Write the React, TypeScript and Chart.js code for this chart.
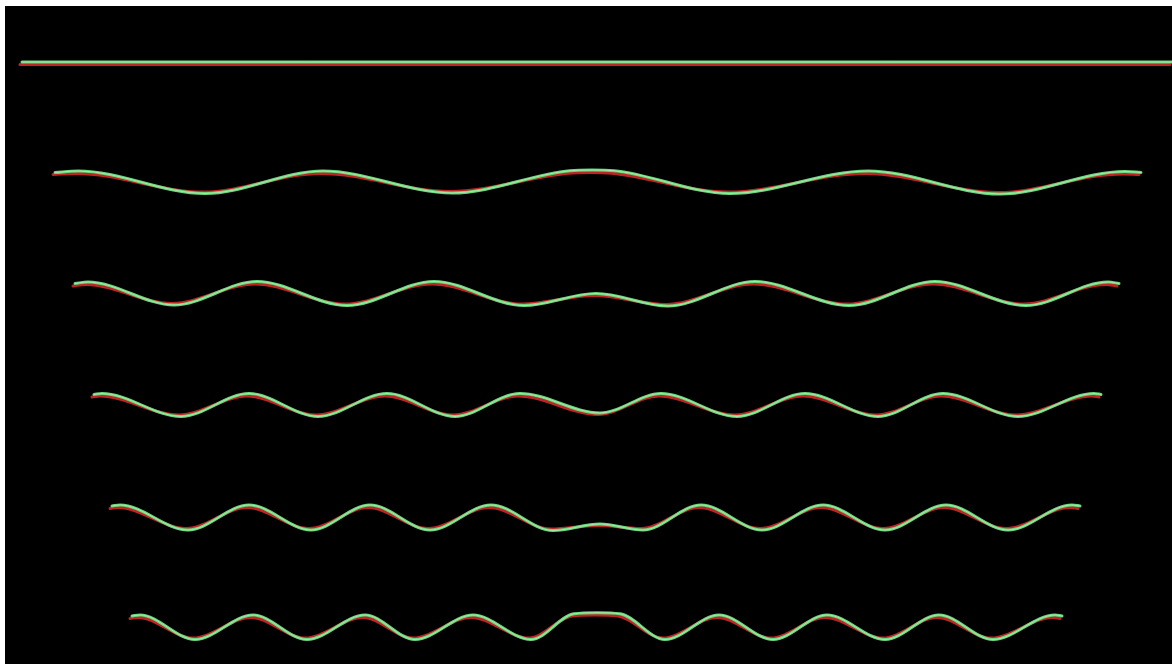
import { useEffect, useRef } from "react";
import { Chart, registerables } from "chart.js";

Chart.register(...registerables);

// Row centre levels (depth units, top = 6, bottom = 664)
const LEVELS = [62, 182, 293.5, 405, 517.5, 627];

// Row 0: flat line
const X0 = [22, 1172];
const G0 = [0, 0];
const R0 = [2.5, 2.5];

// Row 1
const X1 = [55, 78, 205, 323, 452, 570, 592, 614, 730, 868, 1000, 1125, 1141];
const G1 = [-9.5, -11, 11.5, -11, 11, -11.3, -12, -11.3, 11.5, -11, 12, -10.5, -9.5];
const R1 = [-7.5, -8.5, 10, -8.5, 9.5, -8.8, -9.5, -8.8, 10, -8.5, 10.5, -8, -7.5];

// Row 2
const X2 = [75, 88, 174, 257, 347, 434, 524, 596, 668, 755, 849, 935, 1026, 1108, 1119];
const G2 = [-10, -11.5, 11.5, -12, 12, -12, 12, 0, 12.5, -12, 12, -12, 12, -11.5, -10];
const R2 = [-7.5, -9, 10, -9.5, 10.5, -9.5, 10.5, 2, 11, -9.5, 10.5, -9.5, 10.5, -9, -7.5];

// Row 3
const X3 = [94, 102, 181, 249, 318, 387, 455, 520, 600, 661, 737, 805, 878, 943, 1018, 1094, 1101];
const G3 = [-10.5, -11.5, 11.5, -11.5, 11.5, -11.5, 11.5, -11.5, 8, -11.5, 11.5, -11.5, 11.5, -11.5, 11.5, -11.5, -10.5];
const R3 = [-8, -9, 10, -9, 10, -9, 10, -9, 9.5, -9, 10, -9, 10, -9, 10, -9, -8];

// Row 4
const X4 = [112, 120, 188, 249, 311, 370, 430, 491, 553, 600, 643, 701, 762, 823, 885, 946, 1008, 1072, 1080];
const G4 = [-11.5, -12.5, 12.5, -12.5, 12.5, -12.5, 12.5, -12.5, 13, 6.5, 12.5, -12.5, 12.5, -12.5, 12.5, -12.5, 12.5, -12.5, -11.5];
const R4 = [-9, -10, 11, -10, 11, -10, 11, -10, 11.5, 8, 11, -10, 11, -10, 11, -10, 11, -10, -9];

// Row 5
const X5 = [132, 140, 195, 253, 307, 365, 415, 473, 531, 574, 597, 620, 665, 719, 773, 827, 885, 939, 993, 1055, 1062];
const G5 = [-11, -12, 12.5, -12, 12.5, -12, 12.5, -12, 12.5, -13.2, -14.3, -13.2, 12.5, -12, 12.5, -12, 12.5, -12, 12.5, -12, -11];
const R5 = [-8.5, -9.5, 11, -9.5, 11, -9.5, 11, -9.5, 11, -11, -12, -11, 11, -9.5, 11, -9.5, 11, -9.5, 11, -9.5, -8.5];

const XS = [X0, X1, X2, X3, X4, X5];
const GS = [G0, G1, G2, G3, G4, G5];
const RS = [R0, R1, R2, R3, R4, R5];

const GREEN = "rgb(108, 212, 122)";
const GREEN_HI = "rgba(210, 252, 210, 0.55)";
const RED = "rgb(190, 36, 36)";

function toPoints(xs: number[], ds: number[], level: number) {
  return xs.map((x, i) => ({ x, y: level + ds[i] }));
}

export default function App() {
  const ref = useRef<HTMLCanvasElement | null>(null);

  useEffect(() => {
    const canvas = ref.current;
    if (!canvas) return;
    const datasets: any[] = [];
    XS.forEach((xs, r) => {
      const common = {
        pointRadius: 0,
        pointHoverRadius: 0,
        cubicInterpolationMode: "monotone",
        borderCapStyle: "round",
        borderJoinStyle: "round",
        fill: false,
      };
      datasets.push({
        ...common,
        label: `red ${r}`,
        data: toPoints(xs, RS[r], LEVELS[r]),
        borderColor: RED,
        borderWidth: 3,
        xAxisID: "xr",
        order: 3,
      });
      datasets.push({
        ...common,
        label: `green ${r}`,
        data: toPoints(xs, GS[r], LEVELS[r]),
        borderColor: GREEN,
        borderWidth: 3,
        xAxisID: "x",
        order: 2,
      });
      datasets.push({
        ...common,
        label: `hi ${r}`,
        data: toPoints(xs, GS[r], LEVELS[r]),
        borderColor: GREEN_HI,
        borderWidth: 1,
        xAxisID: "x",
        order: 1,
      });
    });

    const chart = new Chart(canvas, {
      type: "line",
      data: { datasets },
      options: {
        animation: false,
        responsive: false,
        maintainAspectRatio: false,
        layout: { padding: 0 },
        plugins: {
          legend: { display: false },
          tooltip: { enabled: false },
          title: { display: false },
        },
        events: [],
        scales: {
          x: { type: "linear", min: 5, max: 1172, display: false },
          xr: { type: "linear", min: 7, max: 1174, display: false },
          y: { type: "linear", min: 6, max: 664, reverse: true, display: false },
        },
      } as any,
    });
    return () => chart.destroy();
  }, []);

  return (
    <div
      style={{
        position: "fixed",
        left: 5,
        top: 6,
        width: 1167,
        height: 658,
        background: "#000",
      }}
    >
      <canvas ref={ref} width={1167} height={658} style={{ display: "block" }} />
    </div>
  );
}
